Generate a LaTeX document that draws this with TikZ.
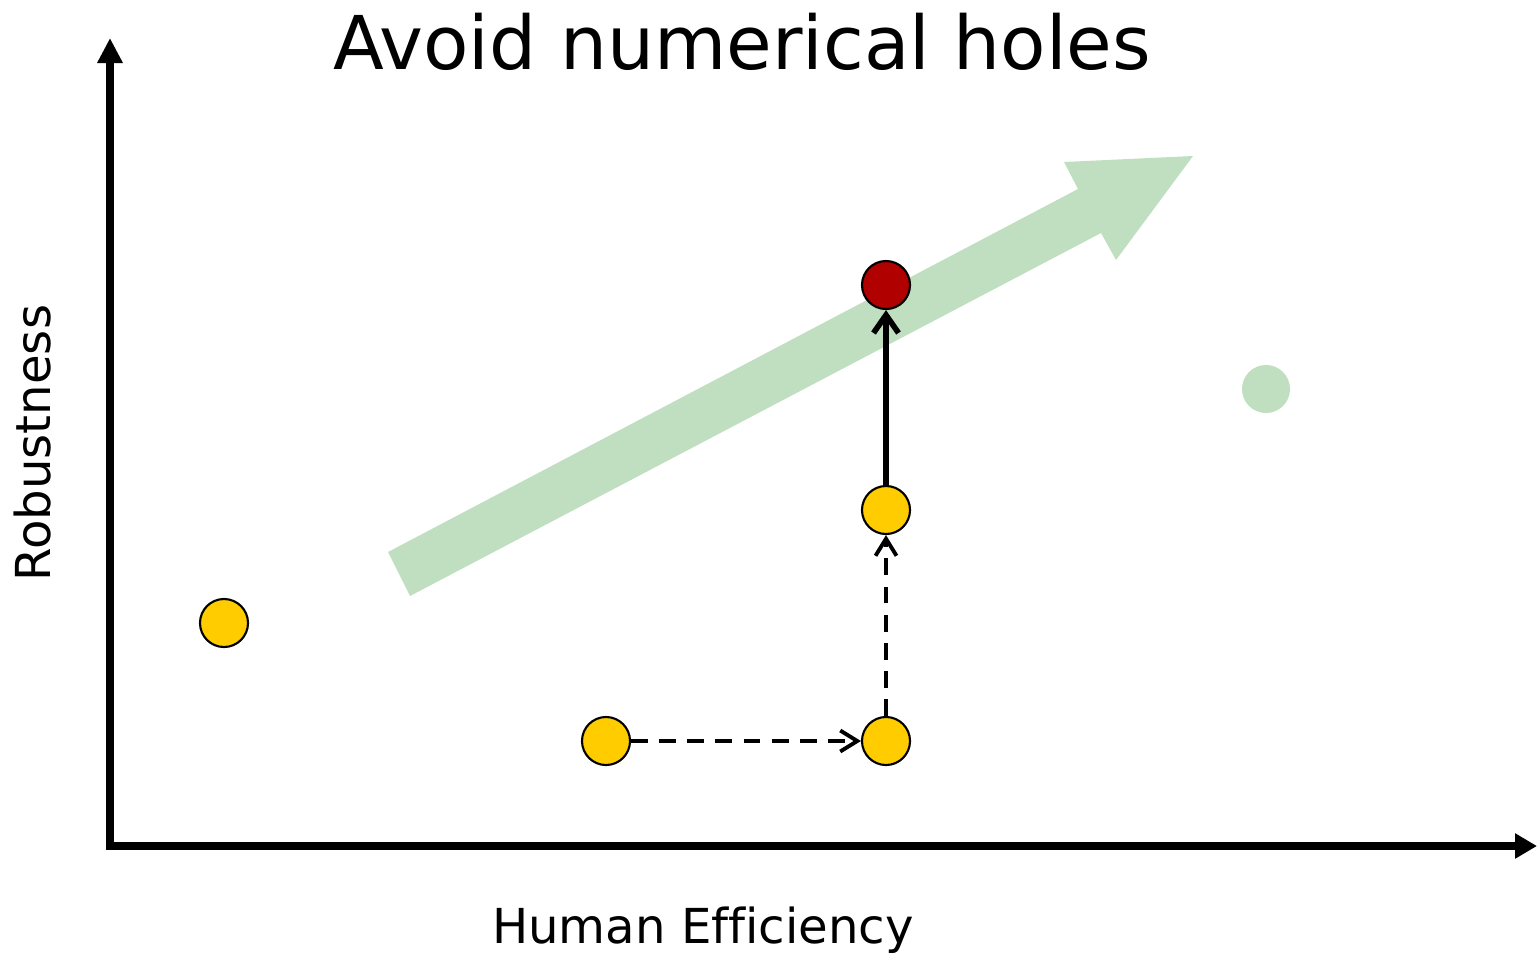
\documentclass[tikz,border=0pt]{standalone}
\usepackage{fontspec}
\setmainfont[Ligatures=NoCommon]{DejaVu Sans}
\usetikzlibrary{arrows.meta}
\definecolor{lgreen}{RGB}{192,223,192}
\definecolor{dot}{RGB}{255,204,0}
\definecolor{hot}{RGB}{176,0,0}
\begin{document}
\begin{tikzpicture}[x=0.01cm,y=-0.01cm,
  pt/.style={circle, draw=black, line width=0.6pt, fill=dot, minimum size=0.48cm, inner sep=0pt},
  ghost/.style={circle, fill=lgreen, minimum size=0.48cm, inner sep=0pt},
  axis/.style={line width=2.1pt, line join=miter, {Triangle[length=0.25cm,width=0.24cm]}-{Triangle[length=0.22cm,width=0.24cm]}},
  step dash/.style={line width=1.1pt, dash pattern=on 4.8pt off 3.2pt, -{Straight Barb[length=0.17cm,width=0.21cm]}},
  move/.style={line width=1.6pt, -{Straight Barb[length=0.18cm,width=0.25cm]}},
  lbl/.style={inner sep=0pt, font=\fontsize{13.7}{16}\selectfont}]
\useasboundingbox (0,0) rectangle (1537,954);
% green trend arrow
\fill[lgreen] (388,552) -- (1078,189) -- (1064,162) -- (1193,156) -- (1116,260) -- (1101,233) -- (410,596) -- cycle;
% axes
\coordinate (ytop) at (110,38);
\coordinate (o) at (110,846);
\coordinate (xend) at (1537,846);
\draw[axis] (ytop) -- (o) -- (xend);
% points
\node[pt] (a) at (224,623) {};
\node[pt] (b) at (606,741) {};
\node[pt] (c) at (886,741) {};
\node[pt] (d) at (886,510) {};
\node[pt, fill=hot] (e) at (886,285) {};
\node[ghost] (g) at (1266,389) {};
% connectors
\draw[step dash] (b) -- (c);
\draw[step dash] (c) -- (d);
\draw[move] (d) -- (e);
% texts
\node[inner sep=0pt, font=\fontsize{21.1}{25}\selectfont] (title) at (742,42) {Avoid numerical holes};
\node[lbl] (xl) at (703,930) {Human Efficiency};
\node[lbl, rotate=90] (yl) at (33,443) {Robustness};
\end{tikzpicture}
\end{document}
